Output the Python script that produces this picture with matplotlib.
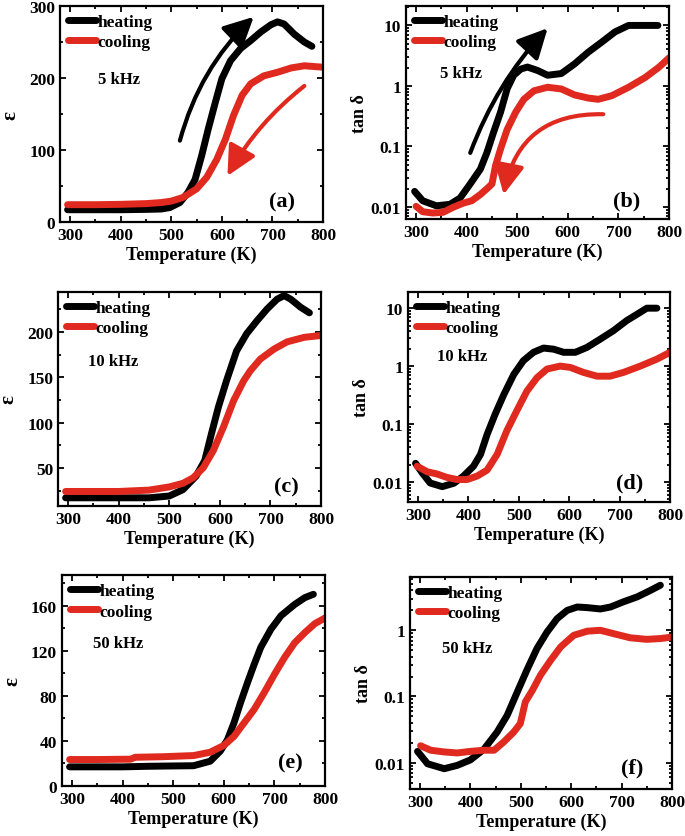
import matplotlib
matplotlib.use("Agg")
import matplotlib.pyplot as plt
from matplotlib.ticker import MultipleLocator, LogLocator, FixedLocator, FixedFormatter, NullFormatter

plt.rcParams['font.family'] = ['Liberation Serif', 'DejaVu Serif']
plt.rcParams['font.weight'] = 'bold'
plt.rcParams['axes.labelweight'] = 'bold'

BLACK = '#000000'
RED = '#e0291f'

# ---- (a) 5 kHz permittivity
T_a_heat = [295, 350, 400, 450, 480, 497, 517, 533, 547, 560, 573, 587, 600, 617, 637,
            657, 677, 697, 710, 723, 743, 763, 778]
eps_a_heat = [17, 17, 17, 17.5, 18, 20, 27, 41, 59, 92, 129, 166, 199, 224, 241,
              252, 264, 274, 278, 275, 261, 250, 244]
T_a_cool = [295, 350, 400, 450, 480, 500, 523, 550, 570, 590, 607, 623, 640, 657, 683,
            710, 737, 763, 800]
eps_a_cool = [24, 24, 24.5, 25.5, 27, 29, 34, 46, 62, 87, 115, 148, 176, 192, 203,
              208, 214, 217, 215]

# ---- (b) 5 kHz loss
T_b_heat = [297, 313, 340, 367, 387, 407, 427, 440, 453, 467, 480, 493, 507, 520, 540,
            560, 587, 613, 640, 667, 693, 720, 778]
tan_b_heat = [0.018, 0.0126, 0.0104, 0.011, 0.014, 0.024, 0.042, 0.079, 0.17, 0.37, 0.9,
              1.5, 1.9, 2.05, 1.8, 1.5, 1.6, 2.3, 3.6, 5.3, 7.8, 10, 10]
T_b_cool = [300, 313, 333, 353, 373, 393, 410, 427, 443, 450, 457, 467, 480, 497, 513,
            533, 560, 587, 613, 640, 660, 687, 720, 753, 780, 800]
tan_b_cool = [0.0102, 0.0083, 0.0079, 0.0081, 0.0098, 0.0115, 0.0126, 0.016, 0.021, 0.024,
              0.048, 0.091, 0.19, 0.37, 0.6, 0.83, 0.95, 0.89, 0.71, 0.63, 0.6, 0.69,
              0.95, 1.38, 2.04, 2.9]

# ---- (c) 10 kHz permittivity
T_c_heat = [295, 350, 400, 460, 500, 527, 553, 570, 583, 597, 613, 633, 653, 673, 693,
            713, 727, 740, 760, 777]
eps_c_heat = [17, 17, 17, 17, 19, 26, 41, 58, 87, 117, 146, 179, 198, 212, 225,
              236, 240, 236, 227, 221]
T_c_cool = [295, 350, 400, 460, 500, 527, 547, 567, 587, 607, 627, 647, 660, 680, 707,
            733, 767, 800]
eps_c_cool = [24, 24, 24, 25.5, 29, 33, 39, 50, 69, 95, 124, 146, 157, 170, 181,
              189, 194, 196]

# ---- (d) 10 kHz loss
T_d_heat = [295, 308, 324, 348, 371, 390, 410, 424, 437, 453, 470, 490, 509, 529, 549,
            569, 589, 612, 635, 661, 688, 714, 741, 754, 774]
tan_d_heat = [0.021, 0.0144, 0.0096, 0.0083, 0.0095, 0.0126, 0.0187, 0.030, 0.066, 0.148,
              0.32, 0.72, 1.24, 1.73, 2.05, 1.96, 1.73, 1.73, 2.1, 2.9, 4.1, 6.1, 8.5,
              10, 10]
T_d_cool = [298, 318, 338, 357, 377, 397, 417, 437, 457, 476, 496, 516, 536, 556, 582,
            602, 628, 655, 681, 708, 741, 774, 800]
tan_d_cool = [0.0187, 0.015, 0.0137, 0.012, 0.011, 0.011, 0.0126, 0.016, 0.030, 0.076,
              0.17, 0.37, 0.63, 0.89, 1.0, 0.95, 0.78, 0.67, 0.67, 0.78, 1.0, 1.32, 1.73]

# ---- (e) 50 kHz permittivity
T_e_heat = [295, 350, 400, 450, 500, 540, 573, 593, 607, 620, 633, 647, 660, 673, 693,
            713, 740, 760, 777]
eps_e_heat = [17, 17, 17, 17.5, 17.8, 18, 22, 31, 41, 56, 74, 92, 108, 123, 139,
              151, 161, 167, 170]
T_e_cool = [295, 350, 415, 425, 480, 540, 573, 600, 620, 640, 660, 680, 700, 720, 740,
            760, 780, 800]
eps_e_cool = [23.5, 23.5, 23.8, 25.5, 26, 27, 30, 36, 44, 56, 68, 83, 99, 114, 127,
              136, 144, 149]

# ---- (f) 50 kHz loss
T_f_heat = [295, 315, 348, 374, 400, 427, 453, 473, 493, 513, 532, 552, 572, 592, 612,
            632, 658, 678, 704, 731, 757, 777]
tan_f_heat = [0.0148, 0.0096, 0.0081, 0.0091, 0.011, 0.016, 0.029, 0.052, 0.117, 0.26,
              0.53, 0.94, 1.5, 2.0, 2.25, 2.2, 2.1, 2.25, 2.7, 3.2, 4.0, 4.8]
T_f_cool = [301, 321, 348, 374, 400, 427, 447, 466, 486, 499, 509, 523, 539, 559, 579,
            605, 632, 658, 684, 717, 750, 777, 800]
tan_f_cool = [0.018, 0.0154, 0.0145, 0.014, 0.0148, 0.0154, 0.0154, 0.0205, 0.029, 0.039,
              0.083, 0.124, 0.21, 0.35, 0.56, 0.84, 0.97, 1.0, 0.89, 0.77, 0.73, 0.75, 0.79]

# direction arrows (start, tip) in data units
arrow_a_heat = [(517, 113), (663, 285)]
arrow_a_cool = [(763, 189), (611, 64)]
arrow_b_heat = [(407, 0.078), (560, 9.0)]
arrow_b_cool = [(670, 0.34), (473, 0.016)]

fig = plt.figure(figsize=(6.85, 8.37), dpi=100)

# [left, bottom, width, height]
rects = {
    'a': [0.0876, 0.7336, 0.384, 0.258],
    'b': [0.5927, 0.7372, 0.384, 0.2545],
    'c': [0.0847, 0.3943, 0.384, 0.2557],
    'd': [0.5956, 0.3990, 0.3825, 0.2509],
    'e': [0.0905, 0.0597, 0.384, 0.2520],
    'f': [0.5985, 0.0562, 0.3825, 0.2533],
}

panels = [
    ('a', T_a_heat, eps_a_heat, T_a_cool, eps_a_cool, '5 kHz', False),
    ('b', T_b_heat, tan_b_heat, T_b_cool, tan_b_cool, '5 kHz', True),
    ('c', T_c_heat, eps_c_heat, T_c_cool, eps_c_cool, '10 kHz', False),
    ('d', T_d_heat, tan_d_heat, T_d_cool, tan_d_cool, '10 kHz', True),
    ('e', T_e_heat, eps_e_heat, T_e_cool, eps_e_cool, '50 kHz', False),
    ('f', T_f_heat, tan_f_heat, T_f_cool, tan_f_cool, '50 kHz', True),
]

freq_pos = {'a': (0.145, 0.66), 'b': (0.13, 0.685), 'c': (0.114, 0.678),
            'd': (0.11, 0.695), 'e': (0.118, 0.68), 'f': (0.122, 0.665)}
tag_pos = {'a': (0.845, 0.097), 'b': (0.84, 0.085), 'c': (0.87, 0.093),
           'd': (0.847, 0.095), 'e': (0.867, 0.114), 'f': (0.85, 0.10)}

axes = {}
for key, th, yh, tc, yc, freq, is_log in panels:
    ax = fig.add_axes(rects[key])
    axes[key] = ax
    ax.plot(th, yh, color=BLACK, lw=5, solid_capstyle='round', label='heating')
    ax.plot(tc, yc, color=RED, lw=5, solid_capstyle='round', label='cooling')
    ax.set_xlim(280, 800)
    ax.xaxis.set_major_locator(MultipleLocator(100))
    ax.xaxis.set_minor_locator(MultipleLocator(50))
    ax.set_xlabel('Temperature (K)', fontsize=13, labelpad=2)

    if is_log:
        ax.set_yscale('log')
        ax.set_ylabel('tan δ', fontsize=13, labelpad=2)
        ax.yaxis.set_minor_locator(LogLocator(base=10, subs=range(2, 10)))
        ax.yaxis.set_minor_formatter(NullFormatter())
    else:
        ax.set_ylabel('ε', fontsize=15, labelpad=6)

    ax.tick_params(which='both', direction='in', top=True, right=True,
                   labelsize=12.5, width=1.3, pad=3.5)
    ax.tick_params(which='major', length=4.5)
    ax.tick_params(which='minor', length=2.5)
    for sp in ax.spines.values():
        sp.set_linewidth(1.6)

    ax.legend(loc='upper left', frameon=False, fontsize=12.5,
              handlelength=1.6, handletextpad=0.1, labelspacing=0.25,
              borderaxespad=0.25, borderpad=0.2)
    fx, fy = freq_pos[key]
    ax.text(fx, fy, freq, transform=ax.transAxes, fontsize=12,
            fontweight='bold', va='center', ha='left')
    tx, ty = tag_pos[key]
    ax.text(tx, ty, '(%s)' % key, transform=ax.transAxes, fontsize=16,
            fontweight='bold', va='center', ha='center')

# axis ranges
axes['a'].set_ylim(0, 300)
axes['a'].yaxis.set_major_locator(MultipleLocator(100))
axes['a'].yaxis.set_minor_locator(MultipleLocator(50))

axes['c'].set_ylim(8, 244)
axes['c'].yaxis.set_major_locator(FixedLocator([50, 100, 150, 200]))
axes['c'].yaxis.set_minor_locator(MultipleLocator(25))

axes['e'].set_ylim(0, 187)
axes['e'].yaxis.set_major_locator(MultipleLocator(40))
axes['e'].yaxis.set_minor_locator(MultipleLocator(20))

log_ticks = [0.01, 0.1, 1, 10]
log_labels = ['0.01', '0.1', '1', '10']
for key, lim in (('b', (0.0063, 21)), ('d', (0.0045, 19)), ('f', (0.004, 6.4))):
    ax = axes[key]
    ax.set_ylim(*lim)
    ax.yaxis.set_major_locator(FixedLocator(log_ticks))
    ax.yaxis.set_major_formatter(FixedFormatter(log_labels))


def draw_arrow(ax, pts, color, rad):
    (x0, y0), (x1, y1) = pts
    ax.annotate('', xy=(x1, y1), xytext=(x0, y0),
                arrowprops=dict(arrowstyle='-|>,head_length=0.9,head_width=0.45',
                                color=color, lw=3, mutation_scale=20,
                                shrinkA=0, shrinkB=0,
                                connectionstyle='arc3,rad=%s' % rad))


draw_arrow(axes['a'], arrow_a_heat, BLACK, -0.14)
draw_arrow(axes['a'], arrow_a_cool, RED, 0.1)
draw_arrow(axes['b'], arrow_b_heat, BLACK, -0.1)
draw_arrow(axes['b'], arrow_b_cool, RED, 0.42)

fig.savefig('out.png', dpi=100)
